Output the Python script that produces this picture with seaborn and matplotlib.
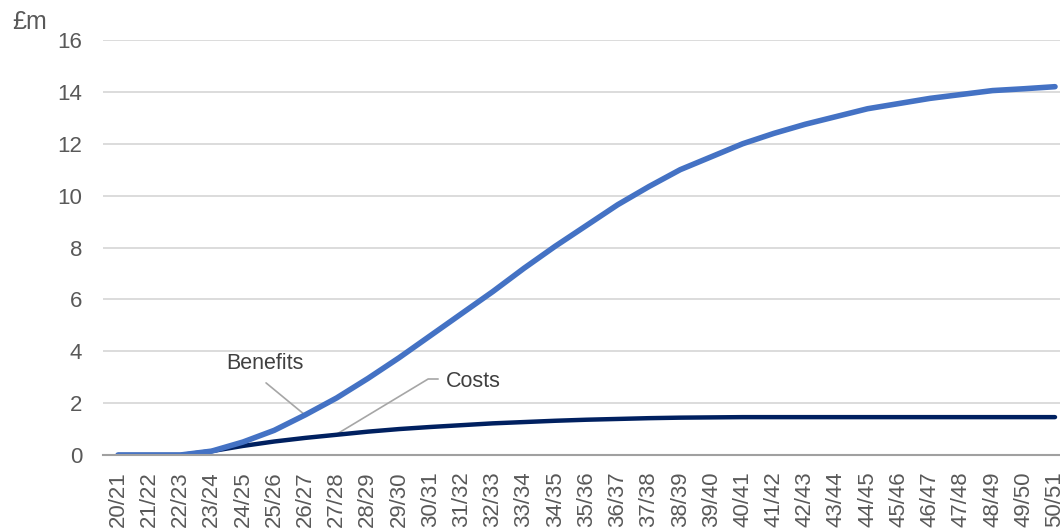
import matplotlib
matplotlib.use("Agg")
import matplotlib.pyplot as plt
import seaborn as sns
import pandas as pd

years = ["20/21", "21/22", "22/23", "23/24", "24/25", "25/26", "26/27", "27/28", "28/29", "29/30",
         "30/31", "31/32", "32/33", "33/34", "34/35", "35/36", "36/37", "37/38", "38/39", "39/40",
         "40/41", "41/42", "42/43", "43/44", "44/45", "45/46", "46/47", "47/48", "48/49", "49/50", "50/51"]
benefits = [0, 0, 0, 0.15, 0.5, 0.95, 1.55, 2.2, 2.95, 3.75,
            4.6, 5.45, 6.3, 7.2, 8.05, 8.85, 9.65, 10.35, 11.0, 11.5,
            12.0, 12.4, 12.75, 13.05, 13.35, 13.55, 13.75, 13.9, 14.05, 14.12, 14.2]
costs = [0, 0, 0, 0.15, 0.35, 0.52, 0.66, 0.78, 0.9, 1.0,
         1.08, 1.15, 1.22, 1.27, 1.32, 1.36, 1.39, 1.42, 1.44, 1.45,
         1.46, 1.46, 1.46, 1.46, 1.46, 1.46, 1.46, 1.46, 1.46, 1.46, 1.46]
yticks = [0, 2, 4, 6, 8, 10, 12, 14, 16]

df = pd.DataFrame({
    "year": years * 2,
    "value": costs + benefits,
    "series": ["Costs"] * len(years) + ["Benefits"] * len(years),
})

sns.set_theme(style="white")
plt.rcParams["font.family"] = ["Liberation Sans", "DejaVu Sans"]

fig = plt.figure(figsize=(10.6, 5.3), dpi=100)
ax = fig.add_axes([103 / 1060, 1 - 455 / 530, 1 - 103 / 1060, (455 - 40) / 530])

sns.lineplot(data=df, x="year", y="value", hue="series", hue_order=["Costs", "Benefits"],
             palette={"Costs": "#002060", "Benefits": "#4472C4"}, ax=ax, legend=False,
             sort=False)
for line, lw in zip(ax.lines, [3.2, 4.0]):
    line.set_linewidth(lw)
    line.set_solid_capstyle("round")
    line.set_solid_joinstyle("round")

ax.set_ylim(0, 16)
ax.set_xlim(-0.48, 30.16)
ax.set_yticks(yticks)
ax.set_yticklabels([str(v) for v in yticks])
ax.yaxis.grid(True, color="#D9D9D9", linewidth=1.3)
ax.set_axisbelow(True)
for s in ["top", "right", "left"]:
    ax.spines[s].set_visible(False)
ax.spines["bottom"].set_color("#A0A0A0")
ax.spines["bottom"].set_linewidth(1.5)
ax.tick_params(axis="x", labelrotation=90, labelsize=16, colors="#595959", length=0, pad=12)
ax.tick_params(axis="y", labelsize=16, colors="#595959", length=0, pad=15)
ax.set_xlabel("")
ax.set_ylabel("")

fig.text(12 / 1060, 1 - 22 / 530, "£m", fontsize=18, color="#595959", va="center", ha="left")

# leader-line annotations
ax.plot([4.74, 5.99], [2.78, 1.54], color="#A6A6A6", lw=1.2, zorder=1)
ax.text(4.71, 3.51, "Benefits", fontsize=15.5, color="#404040", ha="center", va="center")
ax.plot([10.25, 9.93, 7.01], [2.93, 2.93, 0.81], color="#A6A6A6", lw=1.2, zorder=1)
ax.text(10.5, 2.85, "Costs", fontsize=15.5, color="#404040", ha="left", va="center")

fig.savefig("out.png", dpi=100)
